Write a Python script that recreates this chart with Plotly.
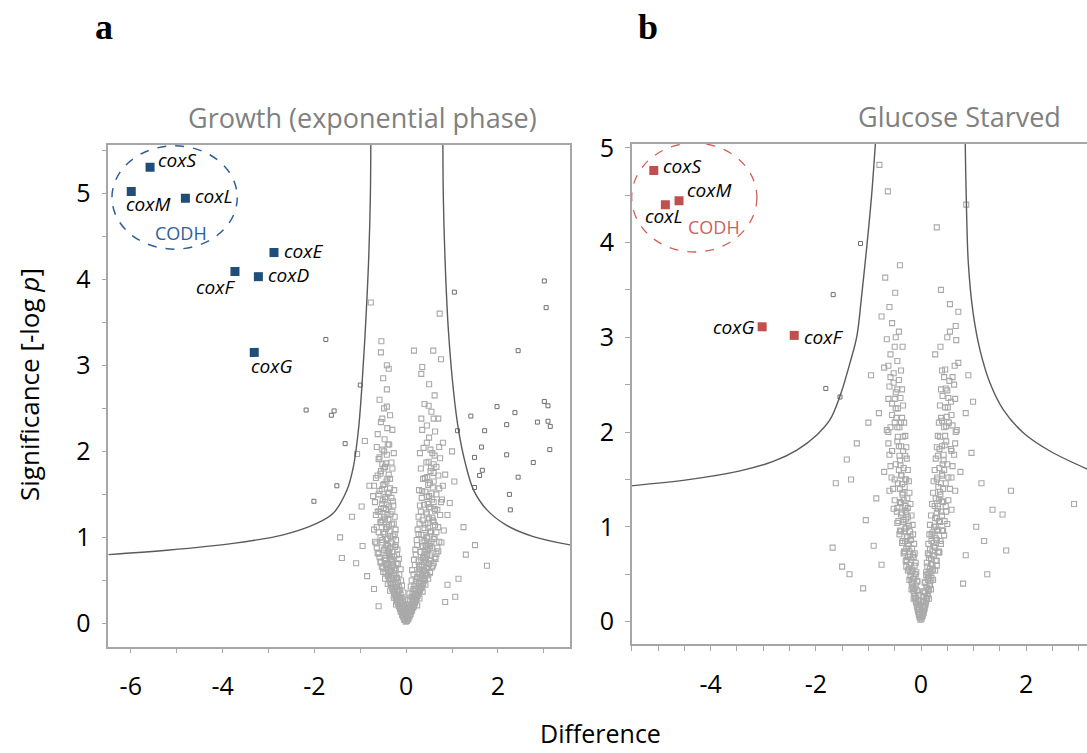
import plotly.graph_objects as go

# ---------------- Panel a: Growth (exponential phase) ----------------
growth_genes = ["coxS", "coxM", "coxL", "coxE", "coxF", "coxD", "coxG"]
growth_gene_x = [-5.58, -5.99, -4.81, -2.88, -3.73, -3.22, -3.31]
growth_gene_y = [5.30, 5.02, 4.94, 4.31, 4.09, 4.03, 3.15]

growth_curve_left_x = [-6.49, -5.22, -3.77, -2.68, -1.96, -1.59, -1.29, -1.15, -1.04, -0.97, -0.89, -0.82, -0.78, -0.77]
growth_curve_left_y = [0.80, 0.85, 0.93, 1.03, 1.16, 1.28, 1.55, 1.82, 2.25, 2.71, 3.41, 4.19, 4.96, 5.60]
growth_curve_right_x = [0.80, 0.81, 0.85, 0.92, 1.03, 1.14, 1.29, 1.47, 1.76, 2.19, 2.77, 3.60]
growth_curve_right_y = [5.60, 4.96, 4.19, 3.41, 2.71, 2.25, 1.86, 1.55, 1.32, 1.14, 1.01, 0.91]

growth_outlier_pairs = [
    (-1.75, 3.30), (-1.00, 2.77), (-2.18, 2.48), (-1.63, 2.42), (-1.57, 2.47), (-1.33, 2.09),
    (-1.51, 1.60), (-2.01, 1.42),
    (1.05, 3.85), (3.01, 3.98), (3.05, 3.67), (2.44, 3.17), (1.98, 2.52), (1.41, 2.41), (2.37, 2.45),
    (3.01, 2.58), (3.09, 2.53), (2.86, 2.34), (3.09, 2.35), (3.14, 2.29), (2.19, 2.31), (1.71, 2.24),
    (1.12, 2.24), (1.64, 2.05), (3.13, 2.02), (1.49, 1.93), (2.19, 1.96), (2.77, 1.87), (1.66, 1.78),
    (1.60, 1.72), (2.44, 1.70), (1.49, 1.58), (2.25, 1.50), (2.27, 1.32),
]

growth_background_pairs = [
    # left arm
    (-0.01, 0.02), (-0.03, 0.05), (-0.06, 0.07), (-0.02, 0.09), (-0.09, 0.10), (-0.05, 0.12), (-0.12, 0.14),
    (-0.08, 0.15), (-0.03, 0.17), (-0.14, 0.18), (-0.10, 0.20), (-0.06, 0.21), (-0.17, 0.23), (-0.12, 0.24),
    (-0.08, 0.26), (-0.20, 0.27), (-0.15, 0.29), (-0.10, 0.30),
    (-0.23, 0.31), (-0.17, 0.33), (-0.12, 0.34), (-0.26, 0.36), (-0.20, 0.37), (-0.14, 0.39), (-0.30, 0.40),
    (-0.22, 0.42), (-0.16, 0.43), (-0.33, 0.45), (-0.25, 0.46), (-0.18, 0.48), (-0.36, 0.50), (-0.28, 0.51),
    (-0.20, 0.53), (-0.40, 0.55), (-0.30, 0.56), (-0.23, 0.58), (-0.45, 0.59),
    (-0.33, 0.61), (-0.25, 0.62), (-0.50, 0.64), (-0.37, 0.66), (-0.28, 0.67), (-0.42, 0.69), (-0.21, 0.70),
    (-0.55, 0.72), (-0.32, 0.74), (-0.46, 0.76), (-0.26, 0.78), (-0.38, 0.80), (-0.60, 0.81), (-0.30, 0.83),
    (-0.49, 0.85), (-0.36, 0.87), (-0.24, 0.89), (-0.43, 0.91), (-0.65, 0.93), (-0.33, 0.95), (-0.52, 0.97),
    (-0.40, 0.99),
    (-0.28, 1.01), (-0.47, 1.04), (-0.36, 1.07), (-0.70, 1.09), (-0.42, 1.12), (-0.31, 1.15), (-0.56, 1.18),
    (-0.39, 1.21), (-0.48, 1.24), (-0.34, 1.27), (-0.62, 1.30), (-0.44, 1.33), (-0.37, 1.36), (-0.53, 1.39),
    (-0.29, 1.42), (-0.46, 1.45), (-0.72, 1.48), (-0.40, 1.51), (-0.58, 1.54), (-0.35, 1.57),
    (-0.50, 1.61), (-0.43, 1.65), (-0.66, 1.69), (-0.38, 1.73), (-0.55, 1.77), (-0.46, 1.82), (-0.32, 1.87),
    (-0.60, 1.91), (-0.42, 1.96), (-0.52, 2.02), (-0.37, 2.08), (-0.47, 2.14), (-0.62, 2.20), (-0.41, 2.27),
    (-0.55, 2.34), (-0.35, 2.42), (-0.48, 2.50), (-0.58, 2.60), (-0.42, 2.72), (-0.50, 2.85),
    # right arm
    (0.02, 0.03), (0.04, 0.06), (0.07, 0.08), (0.03, 0.10), (0.10, 0.11), (0.06, 0.13), (0.13, 0.15),
    (0.09, 0.16), (0.04, 0.18), (0.16, 0.19), (0.11, 0.21), (0.07, 0.22), (0.19, 0.24), (0.14, 0.25),
    (0.09, 0.27), (0.22, 0.28), (0.17, 0.30),
    (0.12, 0.31), (0.25, 0.32), (0.19, 0.34), (0.14, 0.35), (0.29, 0.37), (0.22, 0.38), (0.16, 0.40),
    (0.33, 0.41), (0.25, 0.43), (0.18, 0.44), (0.37, 0.46), (0.28, 0.47), (0.21, 0.49), (0.41, 0.51),
    (0.31, 0.52), (0.24, 0.54), (0.46, 0.56), (0.34, 0.57), (0.27, 0.59),
    (0.52, 0.60), (0.38, 0.62), (0.30, 0.63), (0.44, 0.65), (0.58, 0.67), (0.34, 0.68), (0.48, 0.70),
    (0.27, 0.72), (0.41, 0.74), (0.64, 0.75), (0.37, 0.77), (0.53, 0.79), (0.45, 0.81), (0.31, 0.83),
    (0.70, 0.84), (0.42, 0.86), (0.56, 0.88), (0.36, 0.90), (0.49, 0.92), (0.77, 0.94), (0.40, 0.96),
    (0.60, 0.98),
    (0.45, 1.00), (0.33, 1.03), (0.52, 1.06), (0.82, 1.08), (0.40, 1.11), (0.63, 1.14), (0.47, 1.17),
    (0.36, 1.20), (0.57, 1.23), (0.90, 1.26), (0.44, 1.29), (0.68, 1.32), (0.50, 1.35), (0.39, 1.38),
    (0.60, 1.41), (0.78, 1.44), (0.46, 1.47), (0.55, 1.51), (0.35, 1.54), (0.72, 1.57),
    (0.48, 1.61), (0.60, 1.65), (0.41, 1.69), (0.85, 1.73), (0.53, 1.77), (0.66, 1.82), (0.44, 1.87),
    (0.74, 1.92), (0.57, 1.98), (0.38, 2.04), (0.80, 2.10), (0.50, 2.16), (0.63, 2.23), (0.45, 2.30),
    (0.70, 2.38), (0.55, 2.46), (0.40, 2.55), (0.62, 2.65), (0.50, 2.78), (0.33, 2.90),
    # dense core
    (-0.04, 0.04), (0.05, 0.05), (-0.07, 0.09), (0.08, 0.10), (-0.10, 0.13), (0.11, 0.14), (-0.13, 0.17),
    (0.14, 0.18), (-0.16, 0.20), (0.17, 0.21), (-0.19, 0.25), (0.20, 0.26), (-0.22, 0.29), (0.23, 0.30),
    (-0.25, 0.33), (0.27, 0.35), (-0.28, 0.38), (0.30, 0.39), (-0.31, 0.42), (0.34, 0.44), (-0.34, 0.47),
    (0.38, 0.49), (-0.37, 0.52), (0.40, 0.53), (-0.39, 0.57), (0.43, 0.58), (-0.41, 0.63), (0.46, 0.64),
    (-0.44, 0.68), (0.50, 0.69), (-0.47, 0.73), (0.54, 0.73), (-0.35, 0.78), (0.40, 0.79), (-0.40, 0.84),
    (0.47, 0.85), (-0.45, 0.88), (0.52, 0.90), (-0.30, 0.93), (0.35, 0.94),
    (-0.15, 0.22), (0.18, 0.23), (-0.20, 0.32), (0.22, 0.33), (-0.24, 0.40), (0.27, 0.41), (-0.29, 0.46),
    (0.32, 0.47), (-0.33, 0.53), (0.36, 0.55), (-0.27, 0.56), (0.29, 0.57), (-0.36, 0.60), (0.39, 0.61),
    (-0.31, 0.65), (0.34, 0.66), (-0.39, 0.70), (0.42, 0.71), (-0.34, 0.75), (0.37, 0.76), (-0.43, 0.79),
    (0.46, 0.80), (-0.37, 0.82), (0.40, 0.83), (-0.48, 0.86), (0.51, 0.87), (-0.40, 0.90), (0.43, 0.91),
    (-0.52, 0.94), (0.55, 0.95), (-0.43, 0.98), (0.46, 0.99), (-0.35, 1.02), (0.38, 1.03), (-0.50, 1.06),
    (0.54, 1.07), (-0.44, 1.10), (0.48, 1.11), (-0.38, 1.14), (0.42, 1.15), (-0.55, 1.17), (0.60, 1.18),
    (-0.46, 1.22), (0.50, 1.22), (-0.41, 1.26), (0.45, 1.27), (-0.58, 1.30), (0.63, 1.31), (-0.49, 1.34),
    (0.53, 1.35), (-0.43, 1.38), (0.47, 1.39), (-0.51, 1.43), (0.56, 1.44), (-0.45, 1.47), (0.50, 1.48),
    (-0.38, 1.52), (0.42, 1.53), (-0.53, 1.56), (0.58, 1.58), (-0.47, 1.62), (0.52, 1.63), (-0.41, 1.68),
    (0.46, 1.70), (-0.56, 1.74), (0.60, 1.75), (-0.49, 1.80), (0.54, 1.81), (-0.44, 1.86), (0.49, 1.88),
    (-0.58, 1.93), (0.62, 1.95), (-0.48, 2.00), (0.53, 2.02), (-0.40, 2.08), (0.45, 2.10), (-0.30, 0.72),
    (0.33, 0.74), (-0.26, 0.64), (0.28, 0.66), (-0.22, 0.50), (0.24, 0.52), (-0.18, 0.38), (0.20, 0.40),
    (-0.12, 0.26), (0.14, 0.28), (-0.09, 0.19), (0.10, 0.20), (-0.06, 0.14), (0.07, 0.15),
    # scattered
    (-0.77, 3.73), (0.73, 3.60), (-0.54, 3.28), (-0.55, 3.15), (-0.42, 3.00), (-0.38, 2.96), (0.17, 3.17),
    (0.59, 3.17), (0.35, 2.98), (0.76, 3.07), (-0.42, 2.52), (0.49, 2.53), (0.33, 2.38), (-0.90, 2.12),
    (-1.07, 1.97), (-0.97, 1.36), (-1.18, 1.24), (-1.40, 0.76), (-1.09, 0.70), (-1.44, 1.00), (-0.85, 0.55),
    (-0.95, 0.90), (-0.80, 1.60), (1.76, 0.67), (1.50, 0.91), (1.25, 1.12), (1.14, 0.52), (1.07, 0.31),
    (0.95, 1.40), (1.05, 1.65), (0.90, 0.45), (1.00, 2.00), (-0.70, 0.40), (0.85, 0.25), (-0.60, 0.20),
    (1.30, 0.80),
]

growth_fill_pairs = [
    (-0.05, 0.20), (-0.22, 0.22), (-0.03, 0.28), (-0.27, 0.30), (-0.06, 0.36), (-0.35, 0.38), (-0.09, 0.44),
    (-0.40, 0.46), (-0.11, 0.50), (-0.46, 0.52), (-0.15, 0.57), (-0.50, 0.60), (-0.12, 0.63), (-0.53, 0.66),
    (-0.18, 0.69), (-0.56, 0.71), (-0.16, 0.75), (-0.58, 0.77), (-0.20, 0.80), (-0.62, 0.82), (-0.19, 0.86),
    (-0.64, 0.88), (-0.23, 0.91), (-0.68, 0.95), (-0.22, 0.97), (-0.56, 1.00), (-0.25, 1.04), (-0.60, 1.06),
    (-0.23, 1.09), (-0.64, 1.12), (-0.27, 1.16), (-0.52, 1.20), (-0.25, 1.24), (-0.66, 1.26), (-0.30, 1.30),
    (-0.55, 1.33), (-0.28, 1.37), (-0.68, 1.41), (-0.32, 1.46), (-0.60, 1.50), (-0.26, 1.55), (-0.70, 1.60),
    (-0.35, 1.68), (-0.62, 1.72), (-0.30, 1.80), (-0.52, 1.85), (-0.27, 1.98), (-0.64, 2.05), (-0.30, 2.25),
    (-0.52, 2.38),
    (0.06, 0.19), (0.24, 0.21), (0.04, 0.27), (0.29, 0.29), (0.07, 0.35), (0.36, 0.37), (0.10, 0.43),
    (0.42, 0.45), (0.12, 0.50), (0.48, 0.52), (0.16, 0.57), (0.52, 0.59), (0.13, 0.62), (0.56, 0.65),
    (0.19, 0.68), (0.60, 0.70), (0.17, 0.74), (0.62, 0.77), (0.21, 0.80), (0.66, 0.81), (0.20, 0.86),
    (0.68, 0.88), (0.24, 0.91), (0.72, 0.95), (0.23, 0.97), (0.62, 1.00), (0.27, 1.04), (0.66, 1.06),
    (0.25, 1.09), (0.70, 1.12), (0.29, 1.16), (0.58, 1.20), (0.27, 1.24), (0.74, 1.26), (0.32, 1.30),
    (0.62, 1.33), (0.30, 1.37), (0.76, 1.41), (0.34, 1.46), (0.66, 1.50), (0.28, 1.55), (0.80, 1.60),
    (0.37, 1.68), (0.70, 1.72), (0.32, 1.80), (0.60, 1.85), (0.30, 1.98), (0.72, 2.05), (0.35, 2.25),
    (0.60, 2.38),
]

# ---------------- Panel b: Glucose Starved ----------------
starved_genes = ["coxS", "coxL", "coxM", "coxG", "coxF"]
starved_gene_x = [-5.08, -4.86, -4.60, -3.02, -2.41]
starved_gene_y = [4.76, 4.40, 4.44, 3.11, 3.02]

starved_curve_left_x = [-5.55, -4.39, -3.44, -2.81, -2.36, -1.98, -1.73, -1.54, -1.35, -1.22, -1.13, -1.03, -0.94, -0.86]
starved_curve_left_y = [1.43, 1.50, 1.59, 1.69, 1.81, 1.97, 2.13, 2.38, 2.73, 3.01, 3.43, 3.96, 4.49, 5.10]
starved_curve_right_x = [0.84, 0.86, 0.90, 0.99, 1.12, 1.31, 1.56, 1.95, 2.45, 3.20]
starved_curve_right_y = [5.10, 4.49, 3.78, 3.26, 2.87, 2.52, 2.24, 1.99, 1.80, 1.60]

starved_outlier_pairs = [(-1.15, 3.99), (-1.67, 3.45), (-1.81, 2.46), (-1.54, 2.37)]

starved_background_pairs = [
    # left arm
    (-0.01, 0.02), (-0.03, 0.05), (-0.02, 0.08), (-0.05, 0.10), (-0.04, 0.13), (-0.07, 0.15), (-0.03, 0.18),
    (-0.09, 0.20), (-0.06, 0.23), (-0.11, 0.25), (-0.05, 0.28), (-0.13, 0.30), (-0.08, 0.33), (-0.15, 0.35),
    (-0.10, 0.38), (-0.17, 0.40), (-0.07, 0.43), (-0.13, 0.45), (-0.20, 0.48), (-0.10, 0.50),
    (-0.16, 0.53), (-0.23, 0.56), (-0.12, 0.59), (-0.19, 0.62), (-0.27, 0.65), (-0.14, 0.68), (-0.21, 0.71),
    (-0.31, 0.74), (-0.17, 0.77), (-0.24, 0.80), (-0.36, 0.83), (-0.19, 0.86), (-0.27, 0.89), (-0.41, 0.92),
    (-0.21, 0.95), (-0.30, 0.98), (-0.23, 1.01), (-0.45, 1.04), (-0.33, 1.07), (-0.25, 1.10), (-0.38, 1.13),
    (-0.28, 1.16), (-0.52, 1.19),
    (-0.30, 1.22), (-0.40, 1.26), (-0.26, 1.30), (-0.35, 1.34), (-0.60, 1.38), (-0.31, 1.42), (-0.44, 1.46),
    (-0.28, 1.50), (-0.37, 1.54), (-0.70, 1.58), (-0.33, 1.62), (-0.48, 1.66), (-0.40, 1.70), (-0.30, 1.75),
    (-0.55, 1.80), (-0.38, 1.85), (-0.45, 1.90), (-0.34, 1.95), (-0.62, 2.00), (-0.41, 2.05), (-0.50, 2.10),
    (-0.36, 2.15), (-0.80, 2.20),
    (-0.44, 2.25), (-0.55, 2.30), (-0.39, 2.36), (-0.48, 2.42), (-0.60, 2.48), (-0.42, 2.55), (-0.52, 2.62),
    (-0.70, 2.68), (-0.45, 2.75), (-0.58, 2.82), (-0.50, 2.90), (-0.65, 2.98), (-0.42, 3.06), (-0.55, 3.15),
    (-0.75, 3.22), (-0.60, 3.32), (-0.49, 3.47), (-0.68, 3.63), (-0.40, 3.76), (-0.63, 4.54), (-0.79, 4.82),
    # right arm
    (0.01, 0.03), (0.03, 0.06), (0.05, 0.09), (0.02, 0.11), (0.07, 0.14), (0.04, 0.16), (0.09, 0.19),
    (0.06, 0.21), (0.11, 0.24), (0.05, 0.26), (0.13, 0.29), (0.08, 0.31), (0.15, 0.34), (0.10, 0.36),
    (0.17, 0.39), (0.07, 0.41), (0.13, 0.44), (0.20, 0.46), (0.10, 0.49),
    (0.16, 0.52), (0.23, 0.55), (0.12, 0.58), (0.19, 0.61), (0.28, 0.64), (0.15, 0.67), (0.22, 0.70),
    (0.33, 0.73), (0.17, 0.76), (0.25, 0.79), (0.38, 0.82), (0.20, 0.85), (0.28, 0.88), (0.44, 0.91),
    (0.22, 0.94), (0.31, 0.97), (0.25, 1.00), (0.50, 1.03), (0.34, 1.06), (0.27, 1.09), (0.40, 1.12),
    (0.30, 1.15), (0.58, 1.18),
    (0.32, 1.22), (0.42, 1.26), (0.28, 1.30), (0.37, 1.34), (0.65, 1.38), (0.33, 1.42), (0.47, 1.46),
    (0.30, 1.50), (0.40, 1.54), (0.75, 1.58), (0.35, 1.62), (0.50, 1.66), (0.43, 1.70), (0.32, 1.75),
    (0.58, 1.80), (0.40, 1.85), (0.48, 1.90), (0.36, 1.95), (0.66, 2.00), (0.44, 2.05), (0.53, 2.10),
    (0.38, 2.15), (0.85, 2.20),
    (0.46, 2.26), (0.57, 2.32), (0.41, 2.38), (0.50, 2.44), (0.63, 2.50), (0.44, 2.58), (0.71, 2.73),
    (0.46, 2.66), (0.27, 2.82), (0.67, 2.97), (0.55, 3.06), (0.66, 3.12), (0.71, 3.27), (0.55, 3.35),
    (0.38, 3.50), (0.30, 4.16), (0.86, 4.40),
    # dense core
    (-0.02, 0.04), (0.02, 0.05), (-0.04, 0.07), (0.04, 0.08), (-0.06, 0.12), (0.06, 0.12), (-0.08, 0.17),
    (0.08, 0.17), (-0.10, 0.22), (0.10, 0.22), (-0.12, 0.27), (0.12, 0.27), (-0.14, 0.32), (0.14, 0.33),
    (-0.16, 0.37), (0.16, 0.38), (-0.18, 0.42), (0.18, 0.43), (-0.20, 0.52), (0.20, 0.53), (-0.22, 0.60),
    (0.22, 0.60), (-0.25, 0.68), (0.25, 0.69), (-0.28, 0.77), (0.27, 0.78), (-0.30, 0.85), (0.30, 0.86),
    (-0.32, 0.95), (0.33, 0.96), (-0.34, 1.05), (0.36, 1.05), (-0.36, 1.15), (0.38, 1.16), (-0.38, 1.25),
    (0.40, 1.27), (-0.40, 1.40), (0.42, 1.40), (-0.42, 1.60), (0.44, 1.60),
    (-0.05, 0.15), (0.05, 0.15), (-0.09, 0.25), (0.09, 0.25), (-0.12, 0.35), (0.12, 0.36), (-0.15, 0.45),
    (0.15, 0.46), (-0.17, 0.55), (0.17, 0.56), (-0.19, 0.65), (0.19, 0.66), (-0.22, 0.74), (0.22, 0.75),
    (-0.24, 0.82), (0.24, 0.83), (-0.26, 0.90), (0.26, 0.91), (-0.28, 0.99), (0.28, 1.00), (-0.29, 1.08),
    (0.30, 1.09), (-0.31, 1.18), (0.32, 1.19), (-0.33, 1.28), (0.34, 1.29), (-0.35, 1.36), (0.36, 1.37),
    (-0.36, 1.45), (0.38, 1.46), (-0.38, 1.55), (0.40, 1.56), (-0.39, 1.65), (0.41, 1.66), (-0.41, 1.75),
    (0.43, 1.76), (-0.42, 1.85), (0.45, 1.86), (-0.44, 1.95), (0.46, 1.96), (-0.45, 2.05), (0.48, 2.06),
    (-0.47, 2.15), (0.49, 2.16), (-0.48, 2.25), (0.51, 2.26), (-0.50, 2.35), (0.52, 2.36), (-0.45, 2.45),
    (0.47, 2.46), (-0.52, 2.52), (0.54, 2.54), (-0.38, 0.95), (0.40, 0.96), (-0.33, 0.72), (0.35, 0.73),
    (-0.28, 0.58), (0.30, 0.59), (-0.45, 1.20), (0.47, 1.22), (-0.50, 1.50), (0.52, 1.52), (-0.55, 1.80),
    (0.57, 1.82), (-0.58, 2.05), (0.60, 2.07), (-0.20, 0.90), (0.20, 0.92), (-0.25, 1.20), (0.26, 1.22),
    (-0.30, 1.50), (0.31, 1.52), (-0.34, 1.80), (0.35, 1.82), (-0.38, 2.10), (0.40, 2.12), (-0.12, 0.50),
    (0.13, 0.50), (-0.15, 0.70), (0.16, 0.70),
    # scattered
    (-1.62, 1.46), (-1.68, 0.78), (-1.50, 0.58), (-1.36, 0.50), (-1.41, 1.71), (-1.22, 1.88), (-1.33, 1.50),
    (-1.05, 1.07), (-0.90, 0.80), (-0.85, 1.30), (-1.00, 2.10), (-0.75, 0.60), (-0.95, 2.60), (-1.10, 0.35),
    (2.91, 1.24), (1.71, 1.38), (1.36, 1.18), (1.55, 1.13), (1.62, 0.75), (1.26, 0.50), (1.15, 1.46),
    (0.96, 1.78), (0.99, 2.32), (0.85, 0.70), (1.05, 1.00), (0.80, 0.40), (1.20, 0.85), (0.90, 2.60),
]

starved_fill_pairs = [
    (-0.04, 0.22), (-0.14, 0.24), (-0.06, 0.32), (-0.18, 0.34), (-0.07, 0.42), (-0.22, 0.44), (-0.09, 0.52),
    (-0.25, 0.54), (-0.10, 0.62), (-0.29, 0.64), (-0.12, 0.72), (-0.32, 0.74), (-0.13, 0.82), (-0.35, 0.85),
    (-0.15, 0.92), (-0.40, 0.96), (-0.16, 1.02), (-0.43, 1.06), (-0.18, 1.12), (-0.46, 1.16), (-0.20, 1.24),
    (-0.50, 1.28), (-0.22, 1.36), (-0.53, 1.40), (-0.23, 1.48), (-0.56, 1.52), (-0.25, 1.60), (-0.58, 1.64),
    (-0.27, 1.72), (-0.60, 1.76), (-0.28, 1.84), (-0.62, 1.88), (-0.30, 1.96), (-0.65, 2.02), (-0.32, 2.10),
    (-0.55, 2.18), (-0.34, 2.28), (-0.62, 2.35), (-0.36, 2.45), (-0.58, 2.58), (-0.38, 2.65), (-0.62, 2.70),
    (-0.35, 2.90), (-0.48, 3.00),
    (0.04, 0.22), (0.15, 0.24), (0.06, 0.32), (0.19, 0.34), (0.08, 0.42), (0.23, 0.44), (0.10, 0.52),
    (0.27, 0.54), (0.11, 0.62), (0.30, 0.64), (0.13, 0.72), (0.34, 0.74), (0.14, 0.82), (0.37, 0.85),
    (0.16, 0.92), (0.42, 0.96), (0.17, 1.02), (0.45, 1.06), (0.19, 1.12), (0.48, 1.16), (0.21, 1.24),
    (0.52, 1.28), (0.23, 1.36), (0.55, 1.40), (0.24, 1.48), (0.58, 1.52), (0.26, 1.60), (0.60, 1.64),
    (0.28, 1.72), (0.63, 1.76), (0.30, 1.84), (0.65, 1.88), (0.32, 1.96), (0.68, 2.02), (0.34, 2.10),
    (0.58, 2.18), (0.36, 2.28), (0.65, 2.35), (0.38, 2.45), (0.60, 2.58), (0.40, 2.65), (0.64, 2.70),
    (0.37, 2.90), (0.50, 3.00),
]

# tick labels
growth_x_ticks = [-6, -4, -2, 0, 2]
starved_x_ticks = [-4, -2, 0, 2]
y_ticks = [0, 1, 2, 3, 4, 5]

# ---------------- styling ----------------
SANS = "Open Sans"
LIGHT = "#a9a9a9"
DARK = "#6e6e6e"
CURVE = "#5a5a5a"
AXIS = "#a6a6a6"
BLUE = "#1f4e79"
BLUE_TXT = "#2e5d9a"
RED = "#c0504d"
RED_TXT = "#d0605c"

fig = go.Figure()


def add_panel(xa, ya, bg, out, clx, cly, crx, cry, gx, gy, color):
    fig.add_trace(go.Scatter(x=[p[0] for p in bg], y=[p[1] for p in bg], mode="markers",
                             marker=dict(symbol="square-open", size=5, color=LIGHT, line=dict(width=1.1)),
                             xaxis=xa, yaxis=ya, showlegend=False, hoverinfo="skip"))
    fig.add_trace(go.Scatter(x=[p[0] for p in out], y=[p[1] for p in out], mode="markers",
                             marker=dict(symbol="square-open", size=4, color=DARK, line=dict(width=1)),
                             xaxis=xa, yaxis=ya, showlegend=False, hoverinfo="skip"))
    fig.add_trace(go.Scatter(x=clx, y=cly, mode="lines", line=dict(color=CURVE, width=1.4, shape="spline"),
                             xaxis=xa, yaxis=ya, showlegend=False, hoverinfo="skip"))
    fig.add_trace(go.Scatter(x=crx, y=cry, mode="lines", line=dict(color=CURVE, width=1.4, shape="spline"),
                             xaxis=xa, yaxis=ya, showlegend=False, hoverinfo="skip"))
    fig.add_trace(go.Scatter(x=gx, y=gy, mode="markers",
                             marker=dict(symbol="square", size=9, color=color),
                             xaxis=xa, yaxis=ya, showlegend=False))


add_panel("x", "y", growth_background_pairs + growth_fill_pairs, growth_outlier_pairs,
          growth_curve_left_x, growth_curve_left_y, growth_curve_right_x, growth_curve_right_y,
          growth_gene_x, growth_gene_y, BLUE)
add_panel("x2", "y2", starved_background_pairs + starved_fill_pairs, starved_outlier_pairs,
          starved_curve_left_x, starved_curve_left_y, starved_curve_right_x, starved_curve_right_y,
          starved_gene_x, starved_gene_y, RED)

# gene label placement (anchor, pixel shifts)
growth_label_style = {
    "coxS": ("left", 6, 7), "coxM": ("left", -7, -13), "coxL": ("left", 8, 2),
    "coxE": ("left", 8, 2), "coxF": ("right", 2, -15), "coxD": ("left", 8, 2), "coxG": ("left", -5, -14),
}
starved_label_style = {
    "coxS": ("left", 7, 5), "coxL": ("left", -22, -11), "coxM": ("left", 6, 11),
    "coxG": ("right", -6, 0), "coxF": ("left", 8, -2),
}

annotations = []
for name, gx, gy in zip(growth_genes, growth_gene_x, growth_gene_y):
    anc, dx, dy = growth_label_style[name]
    annotations.append(dict(x=gx, y=gy, xref="x", yref="y", text=f"<i>{name}</i>", showarrow=False,
                            xanchor=anc, yanchor="middle", xshift=dx, yshift=dy,
                            font=dict(family=SANS, size=19, color="#000")))
for name, gx, gy in zip(starved_genes, starved_gene_x, starved_gene_y):
    anc, dx, dy = starved_label_style[name]
    annotations.append(dict(x=gx, y=gy, xref="x2", yref="y2", text=f"<i>{name}</i>", showarrow=False,
                            xanchor=anc, yanchor="middle", xshift=dx, yshift=dy,
                            font=dict(family=SANS, size=19, color="#000")))


def paper_text(px, py, text, size, color, family=SANS, angle=0):
    return dict(x=px / 1087, y=1 - py / 753, xref="paper", yref="paper", text=text, showarrow=False,
                xanchor="center", yanchor="middle", textangle=angle,
                font=dict(family=family, size=size, color=color))


annotations += [
    dict(x=-4.90, y=4.54, xref="x", yref="y", text="CODH", showarrow=False,
         xanchor="center", yanchor="middle", font=dict(family=SANS, size=18, color=BLUE_TXT)),
    dict(x=-3.94, y=4.16, xref="x2", yref="y2", text="CODH", showarrow=False,
         xanchor="center", yanchor="middle", font=dict(family=SANS, size=18, color=RED_TXT)),
    paper_text(362, 118, "Growth (exponential phase)", 27, "#808080"),
    paper_text(959, 117, "Glucose Starved", 27, "#808080"),
    paper_text(104, 27, "<b>a</b>", 36, "#000", family="Liberation Serif"),
    paper_text(648, 27, "<b>b</b>", 36, "#000", family="Liberation Serif"),
    paper_text(29, 385, "Significance [-log <i>p</i>]", 26, "#000", angle=-90),
    paper_text(600, 733, "Difference", 25, "#000"),
]

shapes = [
    dict(type="circle", xref="x", yref="y", x0=-6.41, x1=-3.68, y0=4.35, y1=5.55,
         line=dict(color=BLUE_TXT, width=1.5, dash="dash")),
    dict(type="circle", xref="x2", yref="y2", x0=-5.50, x1=-3.12, y0=3.90, y1=5.05,
         line=dict(color=RED_TXT, width=1.3, dash="dash")),
]

axis_common = dict(showgrid=False, zeroline=False, showline=True, linecolor=AXIS, linewidth=1.5,
                   ticks="outside", ticklen=5, tickcolor=AXIS, tickwidth=1, automargin=False,
                   tickfont=dict(family=SANS, size=25, color="#000"))


def labels(vals):
    return [str(v) for v in vals]


fig.update_layout(
    width=1087, height=753, margin=dict(l=0, r=0, t=0, b=0, autoexpand=False),
    paper_bgcolor="white", plot_bgcolor="white",
    xaxis=dict(domain=[108.3 / 1087, 570 / 1087], range=[-6.49, 3.57], anchor="y",
               tickvals=growth_x_ticks, ticktext=labels(growth_x_ticks), mirror=True, ticklabelstandoff=12,
               minor=dict(dtick=1, tick0=0, ticks="outside", ticklen=5, tickcolor=AXIS),
               **axis_common),
    yaxis=dict(domain=[1 - 646.7 / 753, 1 - 145 / 753], range=[-0.27, 5.56], anchor="x",
               tickvals=y_ticks, ticktext=labels(y_ticks), mirror=True, ticklabelstandoff=6,
               minor=dict(dtick=0.5, tick0=0, ticks="outside", ticklen=5, tickcolor=AXIS),
               **axis_common),
    xaxis2=dict(domain=[631.7 / 1087, 1.0], range=[-5.5, 3.156], anchor="y2",
                tickvals=starved_x_ticks, ticktext=labels(starved_x_ticks), mirror=True, ticklabelstandoff=12,
                minor=dict(dtick=0.5, tick0=0, ticks="outside", ticklen=5, tickcolor=AXIS),
                **axis_common),
    yaxis2=dict(domain=[1 - 644.3 / 753, 1 - 144 / 753], range=[-0.24, 5.04], anchor="x2",
                tickvals=y_ticks, ticktext=labels(y_ticks), ticklabelstandoff=6,
                minor=dict(dtick=0.5, tick0=0, ticks="outside", ticklen=5, tickcolor=AXIS),
                **axis_common),
    annotations=annotations,
    shapes=shapes,
)

fig.write_html("out.html")
